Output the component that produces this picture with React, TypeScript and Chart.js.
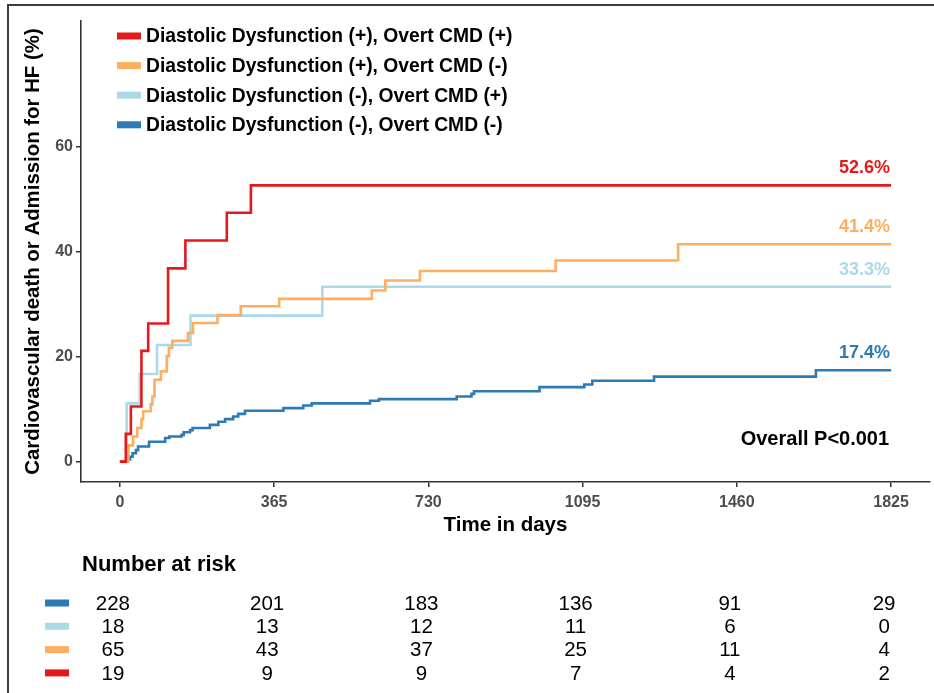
import React, { useEffect, useRef } from "react";
import { Chart, registerables } from "chart.js";

Chart.register(...registerables);

const FONT = "'Liberation Sans', Arial, Helvetica, sans-serif";

// Series names (legend order) and colours
const seriesNames = [
  "Diastolic Dysfunction (+), Overt CMD (+)",
  "Diastolic Dysfunction (+), Overt CMD (-)",
  "Diastolic Dysfunction (-), Overt CMD (+)",
  "Diastolic Dysfunction (-), Overt CMD (-)",
];
const seriesColors = ["#E31A1C", "#FDAE61", "#ABD9E9", "#2C7BB6"];

// Cumulative incidence (%) step data: day of step and value after step
const redDays = [0, 14, 26, 51, 67, 114, 155, 253, 310, 1825];
const redPct = [0, 5.3, 10.5, 21.1, 26.3, 36.8, 42.1, 47.4, 52.6, 52.6];

const orangeDays = [0, 20, 31, 41, 51, 55, 73, 77, 82, 97, 111, 116, 124, 161, 173, 231, 286, 377, 596, 628, 710, 1031, 1321, 1825];
const orangePct = [0, 3.1, 4.8, 6.4, 8.1, 9.6, 10.9, 12.4, 15.6, 17.2, 20.1, 21.7, 23.0, 24.5, 26.4, 27.9, 29.6, 31.0, 32.6, 34.5, 36.3, 38.3, 41.4, 41.4];

const lightBlueDays = [0, 16, 47, 88, 167, 479, 1825];
const lightBluePct = [0, 11.1, 16.7, 22.2, 27.8, 33.3, 33.3];

const blueDays = [0, 17, 24, 30, 38, 43, 69, 107, 117, 146, 151, 166, 172, 213, 233, 249, 268, 280, 296, 387, 434, 454, 592, 613, 797, 832, 838, 993, 1099, 1118, 1264, 1647, 1825];
const bluePct = [0, 0.4, 0.95, 1.6, 2.2, 2.9, 3.8, 4.5, 4.8, 5.1, 5.6, 6.0, 6.4, 7.0, 7.6, 8.1, 8.6, 9.1, 9.7, 10.2, 10.7, 11.1, 11.6, 11.9, 12.4, 12.9, 13.4, 14.2, 14.7, 15.4, 16.2, 17.4, 17.4];

const finalLabels = ["52.6%", "41.4%", "33.3%", "17.4%"];
const finalValues = [52.6, 41.4, 33.3, 17.4];
const pValueText = "Overall P<0.001";

// Axes
const xTicks = [0, 365, 730, 1095, 1460, 1825];
const yTicks = [0, 20, 40, 60];
const xTitle = "Time in days";
const yTitle = "Cardiovascular death or Admission for HF (%)";

// Number at risk (table rows, top to bottom)
const riskTitle = "Number at risk";
const riskBlue = [228, 201, 183, 136, 91, 29];
const riskLightBlue = [18, 13, 12, 11, 6, 0];
const riskOrange = [65, 43, 37, 25, 11, 4];
const riskRed = [19, 9, 9, 7, 4, 2];

const toPoints = (days: number[], pct: number[]) =>
  days.map((d, i) => ({ x: d, y: pct[i] }));

export default function App() {
  const canvasRef = useRef<HTMLCanvasElement | null>(null);

  useEffect(() => {
    const canvas = canvasRef.current;
    if (!canvas) return;

    const seriesData = [
      toPoints(redDays, redPct),
      toPoints(orangeDays, orangePct),
      toPoints(lightBlueDays, lightBluePct),
      toPoints(blueDays, bluePct),
    ];
    const riskRows = [
      { color: seriesColors[3], counts: riskBlue },
      { color: seriesColors[2], counts: riskLightBlue },
      { color: seriesColors[1], counts: riskOrange },
      { color: seriesColors[0], counts: riskRed },
    ];

    const overlay = {
      id: "overlay",
      beforeDraw(chart: any) {
        const ctx = chart.ctx;
        ctx.save();
        ctx.fillStyle = "#ffffff";
        ctx.fillRect(0, 0, chart.width, chart.height);
        ctx.strokeStyle = "#3c3c3c";
        ctx.lineWidth = 2;
        ctx.beginPath();
        ctx.moveTo(8, chart.height);
        ctx.lineTo(8, 5);
        ctx.lineTo(chart.width, 5);
        ctx.stroke();
        ctx.restore();
      },
      afterDraw(chart: any) {
        const ctx = chart.ctx;
        const area = chart.chartArea;
        const xs = chart.scales.x;
        const ys = chart.scales.y;
        ctx.save();

        // Legend
        ctx.textBaseline = "middle";
        ctx.textAlign = "left";
        ctx.font = `bold 19.3px ${FONT}`;
        seriesNames.forEach((name, i) => {
          const cy = 36 + i * 29.6;
          ctx.fillStyle = seriesColors[i];
          ctx.fillRect(117, cy - 3.5, 24, 7);
          ctx.fillStyle = "#000";
          ctx.fillText(name, 146, cy + 1);
        });

        // End-of-curve labels
        ctx.textAlign = "right";
        ctx.font = `bold 18px ${FONT}`;
        const xEnd = xs.getPixelForValue(1825) - 1;
        finalValues.forEach((v, i) => {
          ctx.fillStyle = seriesColors[i];
          ctx.fillText(finalLabels[i], xEnd, ys.getPixelForValue(v) - 17);
        });
        ctx.fillStyle = "#000";
        ctx.font = `bold 20px ${FONT}`;
        ctx.fillText(pValueText, xEnd - 1, ys.getPixelForValue(0) - 22);

        // Y title
        ctx.save();
        ctx.translate(33, (area.top + area.bottom) / 2);
        ctx.rotate(-Math.PI / 2);
        ctx.textAlign = "center";
        ctx.font = `bold 20.4px ${FONT}`;
        ctx.fillStyle = "#000";
        ctx.fillText(yTitle, 0, 0);
        ctx.restore();

        // X title
        ctx.textAlign = "center";
        ctx.font = `bold 20.5px ${FONT}`;
        ctx.fillStyle = "#000";
        ctx.fillText(xTitle, (area.left + area.right) / 2, 525);

        // Number at risk
        ctx.textAlign = "left";
        ctx.font = `bold 22px ${FONT}`;
        ctx.fillText(riskTitle, 82, 565);

        ctx.font = `20.5px ${FONT}`;
        ctx.textAlign = "center";
        riskRows.forEach((row, r) => {
          const cy = 603 + r * 23.3;
          ctx.fillStyle = row.color;
          ctx.fillRect(45, cy - 3.5, 24, 7);
          ctx.fillStyle = "#000";
          row.counts.forEach((c, k) => {
            ctx.fillText(String(c), xs.getPixelForValue(xTicks[k]) - 7, cy + 1);
          });
        });

        ctx.restore();
      },
    };

    const chart = new Chart(canvas, {
      type: "line",
      data: {
        datasets: seriesData.map((d, i) => ({
          label: seriesNames[i],
          data: d,
          borderColor: seriesColors[i],
          backgroundColor: seriesColors[i],
          borderWidth: 2.6,
          stepped: true,
          pointRadius: 0,
          fill: false,
        })),
      },
      options: {
        animation: false,
        responsive: false,
        devicePixelRatio: 1,
        layout: { padding: { top: 21, left: 0, right: 4, bottom: 171 } },
        plugins: {
          legend: { display: false },
          tooltip: { enabled: false },
        },
        scales: {
          x: {
            type: "linear",
            min: -92,
            max: 1917,
            afterBuildTicks: (s: any) => {
              s.ticks = xTicks.map((v) => ({ value: v }));
            },
            afterFit: (s: any) => {
              s.height = 40;
            },
            ticks: {
              color: "#4D4D4D",
              font: { family: FONT, size: 16, weight: "bold" },
              padding: 6,
              maxRotation: 0,
              autoSkip: false,
              callback: (v: any) => String(v),
            },
            grid: {
              drawOnChartArea: false,
              drawTicks: true,
              tickLength: 5,
              color: "#333333",
              lineWidth: 1.5,
            },
            border: { display: true, color: "#333333", width: 1.6 },
          },
          y: {
            type: "linear",
            min: -3.87,
            max: 83.9,
            afterBuildTicks: (s: any) => {
              s.ticks = yTicks.map((v) => ({ value: v }));
            },
            afterFit: (s: any) => {
              s.width = 81;
            },
            ticks: {
              color: "#4D4D4D",
              font: { family: FONT, size: 16, weight: "bold" },
              padding: 3,
              callback: (v: any) => String(v),
            },
            grid: {
              drawOnChartArea: false,
              drawTicks: true,
              tickLength: 5,
              color: "#333333",
              lineWidth: 1.5,
            },
            border: { display: true, color: "#333333", width: 1.6 },
          },
        },
      },
      plugins: [overlay],
    });

    return () => {
      chart.destroy();
    };
  }, []);

  return (
    <div style={{ position: "absolute", left: 0, top: 0, width: 934, height: 693 }}>
      <canvas ref={canvasRef} width={934} height={693} style={{ width: 934, height: 693, display: "block" }} />
    </div>
  );
}
